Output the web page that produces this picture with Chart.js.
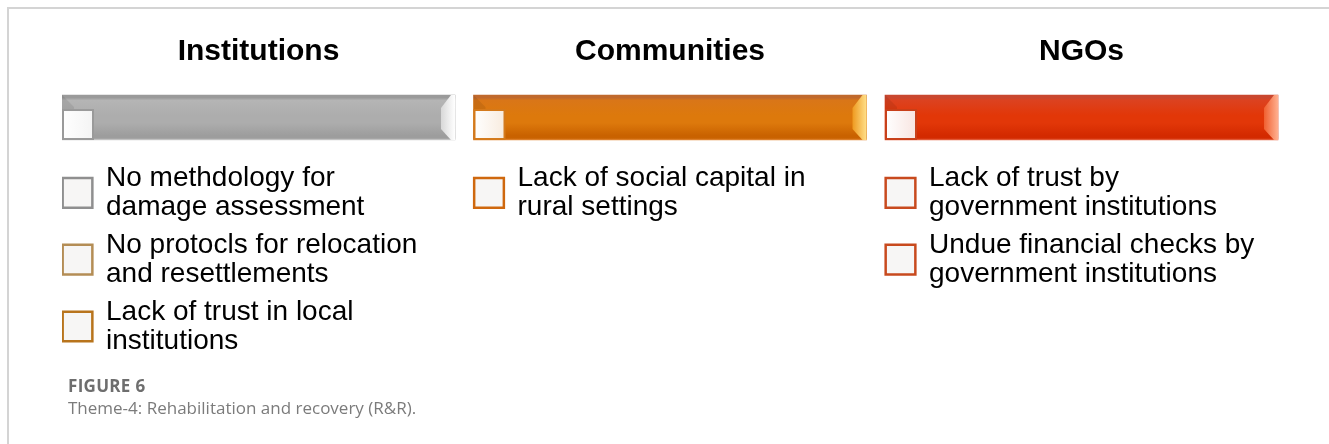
<!DOCTYPE html>
<html>
<head>
<meta charset="utf-8">
<script src="https://cdn.jsdelivr.net/npm/chart.js@4.4.1/dist/chart.umd.min.js"></script>
<style>
    body { margin: 0; background: #fff; }
    #wrap { position: relative; width: 1329px; height: 444px; overflow: hidden; }
    #cadre { position: absolute; left: 7px; top: 7px; right: 0; bottom: 0; border-top: 2px solid #d4d4d4; border-left: 2px solid #d4d4d4; }
    #graph { position: absolute; left: 0; top: 0; }
    #legende { position: absolute; left: 68px; top: 375px; font-family: "Open Sans", sans-serif; color: #7b7b7b; line-height: 22px; }
    #legende .num { font-weight: bold; font-size: 17px; color: #6e6e6e; letter-spacing: 0.3px; }
    #legende .txt { font-size: 17px; }
</style>
</head>
<body>
<div id="wrap">
    <div id="cadre"></div>
    <canvas id="graph" width="1329" height="444"></canvas>
    <div id="legende">
        <div class="num">FIGURE 6</div>
        <div class="txt">Theme-4: Rehabilitation and recovery (R&amp;R).</div>
    </div>
</div>
<script>
// Données du schéma
const categories = ["Institutions", "Communities", "NGOs"];
const itemsInstitutions = [
    ["No methdology for", "damage assessment"],
    ["No protocls for relocation", "and resettlements"],
    ["Lack of trust in local", "institutions"]
];
const itemsCommunities = [
    ["Lack of social capital in", "rural settings"]
];
const itemsNgos = [
    ["Lack of trust by", "government institutions"],
    ["Undue financial checks by", "government institutions"]
];
const itemsParColonne = [itemsInstitutions, itemsCommunities, itemsNgos];

// Styles (couleurs des barres et des cases)
const couleursBarre = [
    { haut: "#9a9a9a", clair: "#b5b5b5", milieu: "#adadad", bas: "#9d9d9d", bord: "#cfcfcf", biseau: ["#ffffff", "#d8d8d8"], carre: "#9a9a9a", fondCarre: "#f4f4f4" },
    { haut: "#c0692c", clair: "#d97618", milieu: "#dd790c", bas: "#c96200", bord: "#e38a3a", biseau: ["#ffe08a", "#ee9a20"], carre: "#d47a1c", fondCarre: "#f8ece0" },
    { haut: "#c9472f", clair: "#dc4220", milieu: "#e23708", bas: "#d32a00", bord: "#e86a4a", biseau: ["#ffb090", "#f06030"], carre: "#c8401a", fondCarre: "#f8e6e2" }
];
const couleursCases = [
    ["#8f8f8f", "#b48d55", "#b8741c"],
    ["#cf680e"],
    ["#c84a1e", "#c84a1e"]
];

// Positions verticales (en unités de ligne d'items)
const rangTitre = -2.11;
const rangBarre = -1.13;
const largeurBarre = 0.955;
const decalageTexte = 0.107;
const decalageCase = 0.0377;

// Jeux de données construits à partir des tableaux
const donneesBarres = categories.map((c, i) => ({ x: [i, i + largeurBarre], y: rangBarre }));
const donneesCases = [];
const couleursPoints = [];
itemsParColonne.forEach((items, col) => {
    items.forEach((item, k) => {
        donneesCases.push({ x: col + decalageCase, y: k });
        couleursPoints.push(couleursCases[col][k]);
    });
});

const pluginTextes = {
    id: "textes",
    afterDatasetsDraw(chart) {
        const ctx = chart.ctx;
        const xs = chart.scales.x;
        const ys = chart.scales.y;
        const barres = chart.getDatasetMeta(0).data;

        // biseau droit et petit carré à gauche de chaque barre
        barres.forEach((b, i) => {
            const c = couleursBarre[i];
            const gauche = b.base, droite = b.x;
            const haut = b.y - b.height / 2, bas = b.y + b.height / 2;
            ctx.save();
            const g = ctx.createLinearGradient(droite - 14, 0, droite, 0);
            g.addColorStop(0, c.biseau[1]);
            g.addColorStop(1, c.biseau[0]);
            ctx.fillStyle = g;
            ctx.beginPath();
            ctx.moveTo(droite, haut);
            ctx.lineTo(droite - 4, haut);
            ctx.lineTo(droite - 14, haut + 13);
            ctx.lineTo(droite - 14, bas - 11);
            ctx.lineTo(droite - 4, bas);
            ctx.lineTo(droite, bas);
            ctx.closePath();
            ctx.fill();

            // biseau gauche plus sombre
            ctx.fillStyle = "rgba(0,0,0,0.08)";
            ctx.beginPath();
            ctx.moveTo(gauche, haut);
            ctx.lineTo(gauche + 12, haut + 12);
            ctx.lineTo(gauche + 12, bas - 12);
            ctx.lineTo(gauche, bas);
            ctx.closePath();
            ctx.fill();

            // petit carré
            const cote = 30;
            const g2 = ctx.createLinearGradient(gauche, 0, gauche + cote, 0);
            g2.addColorStop(0, "#ffffff");
            g2.addColorStop(1, c.fondCarre);
            ctx.fillStyle = g2;
            ctx.fillRect(gauche + 1, bas - cote, cote, cote - 1);
            ctx.strokeStyle = c.carre;
            ctx.lineWidth = 2;
            ctx.strokeRect(gauche + 1, bas - cote, cote, cote - 1);
            ctx.restore();
        });

        ctx.save();
        ctx.fillStyle = "#000";
        ctx.textBaseline = "middle";

        // titres
        ctx.font = "bold 30px 'Liberation Sans', Arial, sans-serif";
        ctx.textAlign = "center";
        categories.forEach((c, i) => {
            ctx.fillText(c, xs.getPixelForValue(i + largeurBarre / 2), ys.getPixelForValue(rangTitre));
        });

        // items
        ctx.font = "28px 'Liberation Sans', Arial, sans-serif";
        ctx.textAlign = "left";
        const demiLigne = (ys.getPixelForValue(1) - ys.getPixelForValue(0)) * 0.217;
        itemsParColonne.forEach((items, col) => {
            items.forEach((lignes, k) => {
                const x = xs.getPixelForValue(col + decalageTexte);
                const y = ys.getPixelForValue(k);
                ctx.fillText(lignes[0], x, y - demiLigne);
                ctx.fillText(lignes[1], x, y + demiLigne);
            });
        });
        ctx.restore();
    }
};

const ctx = document.getElementById("graph").getContext("2d");

function degradeBarre(context) {
    const chart = context.chart;
    const c = couleursBarre[context.dataIndex];
    if (!chart.chartArea) return c.milieu;
    const ys = chart.scales.y;
    const cy = ys.getPixelForValue(rangBarre);
    const h = 45;
    const g = chart.ctx.createLinearGradient(0, cy - h / 2, 0, cy + h / 2);
    g.addColorStop(0, c.haut);
    g.addColorStop(0.06, c.haut);
    g.addColorStop(0.12, c.clair);
    g.addColorStop(0.45, c.milieu);
    g.addColorStop(0.62, c.milieu);
    g.addColorStop(0.9, c.bas);
    g.addColorStop(0.96, c.bas);
    g.addColorStop(1, c.bord);
    return g;
}

new Chart(ctx, {
    type: "bar",
    data: {
        datasets: [{
            label: "Barres",
            data: donneesBarres,
            backgroundColor: degradeBarre,
            borderWidth: 0,
            barThickness: 45,
            borderSkipped: false
        }, {
            type: "scatter",
            label: "Cases",
            data: donneesCases,
            pointStyle: "rect",
            pointRadius: 21,
            pointHoverRadius: 21,
            pointBorderWidth: 2.5,
            pointBorderColor: couleursPoints,
            pointBackgroundColor: "#f7f6f5"
        }]
    },
    options: {
        responsive: false,
        animation: false,
        indexAxis: "y",
        events: [],
        layout: { autoPadding: false, padding: { left: 62, right: 32.5, top: 0, bottom: 0 } },
        plugins: { legend: { display: false }, tooltip: { enabled: false } },
        scales: {
            x: { type: "linear", min: 0, max: 3, display: false, offset: false },
            y: { type: "linear", min: -2.89, max: 3.76, reverse: true, display: false, offset: false }
        }
    },
    plugins: [pluginTextes]
});
</script>
</body>
</html>
